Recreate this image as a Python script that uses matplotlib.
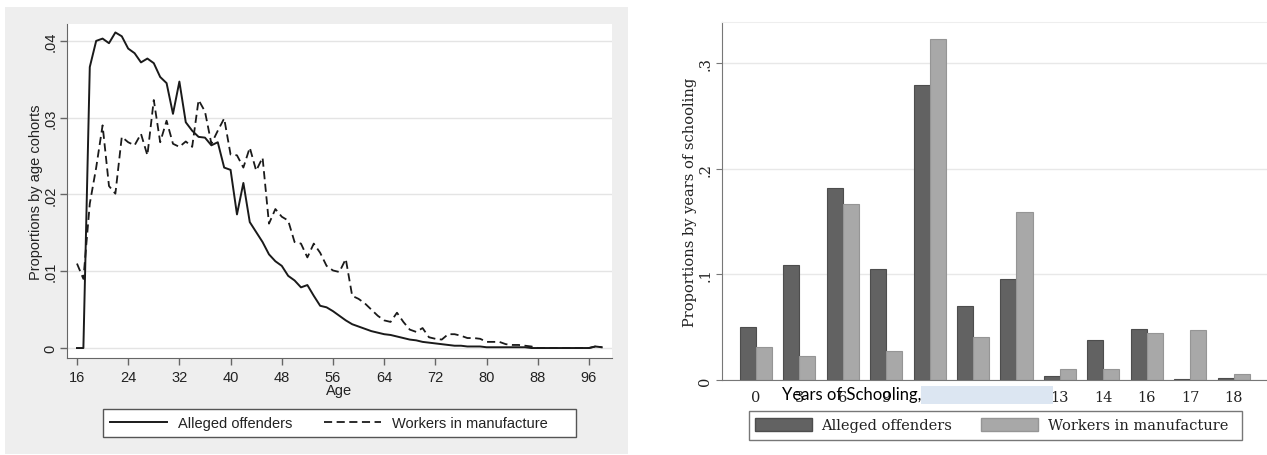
import numpy as np
import matplotlib.pyplot as plt
from matplotlib.patches import Rectangle
from matplotlib.lines import Line2D
from matplotlib.patches import Patch

# --- data: left panel (age distribution) ---
ages = list(range(16, 99))
alleged_offenders = [
    0.0, 0.0, 0.0366, 0.0400, 0.0403, 0.0397, 0.0411, 0.0406, 0.0390, 0.0384,
    0.0372, 0.0377, 0.0371, 0.0353, 0.0345, 0.0305, 0.0347, 0.0294, 0.0283, 0.0275,
    0.0274, 0.0264, 0.0268, 0.0235, 0.0232, 0.0174, 0.0215, 0.0164, 0.0151, 0.0138,
    0.0122, 0.0113, 0.0107, 0.0094, 0.0088, 0.0079, 0.0082, 0.0068, 0.0055, 0.0053,
    0.0048, 0.0042, 0.0036, 0.0031, 0.0028, 0.0025, 0.0022, 0.0020, 0.0018, 0.0017,
    0.0015, 0.0013, 0.0011, 0.0010, 0.0008, 0.0007, 0.0006, 0.0005, 0.0004, 0.0003,
    0.0003, 0.0002, 0.0002, 0.0002, 0.0001, 0.0001, 0.0001, 0.0001, 0.0001, 0.0001,
    0.0001, 0.0, 0.0, 0.0, 0.0, 0.0, 0.0, 0.0, 0.0, 0.0,
    0.0, 0.0002, 0.0001,
]
workers_manufacture = [
    0.0110, 0.0090, 0.0188, 0.0235, 0.0290, 0.0211, 0.0201, 0.0275, 0.0268, 0.0264,
    0.0279, 0.0251, 0.0323, 0.0268, 0.0296, 0.0266, 0.0262, 0.0269, 0.0262, 0.0323,
    0.0308, 0.0266, 0.0283, 0.0299, 0.0252, 0.0251, 0.0235, 0.0261, 0.0231, 0.0248,
    0.0162, 0.0181, 0.0171, 0.0166, 0.0138, 0.0136, 0.0118, 0.0136, 0.0124, 0.0107,
    0.0101, 0.0099, 0.0116, 0.0068, 0.0064, 0.0058, 0.0050, 0.0042, 0.0036, 0.0034,
    0.0046, 0.0034, 0.0024, 0.0021, 0.0026, 0.0014, 0.0012, 0.0011, 0.0018, 0.0018,
    0.0016, 0.0013, 0.0013, 0.0012, 0.0008, 0.0008, 0.0008, 0.0005, 0.0004, 0.0004,
    0.0003, 0.0002, 0.0, 0.0, 0.0, 0.0, 0.0, 0.0, 0.0, 0.0,
    0.0, 0.0002, 0.0001,
]
age_ticks = [16, 24, 32, 40, 48, 56, 64, 72, 80, 88, 96]
age_yticks = [0, 0.01, 0.02, 0.03, 0.04]
age_yticklabels = ['0', '.01', '.02', '.03', '.04']

# --- data: right panel (years of schooling) ---
school_years = ['0', '3', '6', '9', '10', '11', '12', '13', '14', '16', '17', '18']
school_offenders = [0.050, 0.109, 0.182, 0.1055, 0.280, 0.0705, 0.0957, 0.004, 0.038, 0.0487, 0.001, 0.002]
school_workers = [0.031, 0.023, 0.167, 0.0275, 0.3235, 0.041, 0.159, 0.0104, 0.0104, 0.0445, 0.0477, 0.006]
school_yticks = [0, 0.1, 0.2, 0.3]
school_yticklabels = ['0', '.1', '.2', '.3']

W, H = 1267, 456
fig = plt.figure(figsize=(W / 100, H / 100), dpi=100)


def fx(px):
    return px / W


def fy(py):
    return 1 - py / H


def box(x0, y0, x1, y1):
    return [fx(x0), fy(y1), fx(x1) - fx(x0), fy(y0) - fy(y1)]


# gray graph region behind the left panel
fig.add_artist(Rectangle((fx(5), fy(455)), fx(628) - fx(5), fy(8) - fy(455),
                         transform=fig.transFigure, facecolor='#eeeeee',
                         edgecolor='none', zorder=-5))

# ---------------- left panel ----------------
sans = 'Liberation Sans'
ax1 = fig.add_axes(box(67, 25, 612, 359))
ax1.set_facecolor('white')
ax1.plot(ages, alleged_offenders, color='#1a1a1a', lw=1.4, label='Alleged offenders')
ax1.plot(ages, workers_manufacture, color='#1a1a1a', lw=1.3, dashes=(4.5, 2.5),
         label='Workers in manufacture')
ax1.set_xlim(14.44, 99.6)
ax1.set_ylim(-0.0013, 0.0422)
ax1.set_xticks(age_ticks)
ax1.set_xticklabels([str(a) for a in age_ticks], fontfamily=sans, fontsize=10.5)
ax1.set_yticks(age_yticks)
ax1.set_yticklabels(age_yticklabels, fontfamily=sans, fontsize=10.5,
                    rotation=90, va='center')
ax1.grid(axis='y', color='#e4e4e4', lw=1)
ax1.set_axisbelow(True)
for s in ['top', 'right']:
    ax1.spines[s].set_visible(False)
for s in ['left', 'bottom']:
    ax1.spines[s].set_color('#666666')
ax1.tick_params(colors='#666666', labelcolor='#222222', length=5, width=1)
ax1.tick_params(axis='x', pad=4)
ax1.tick_params(axis='y', pad=2)
ax1.set_xlabel('Age', fontfamily=sans, fontsize=10.5, labelpad=-1, color='#222222')
ax1.set_ylabel('Proportions by age cohorts', fontfamily=sans, fontsize=10.5,
               labelpad=0, color='#222222')

# legend box of the left panel
fig.add_artist(Rectangle((fx(103), fy(438)), fx(576) - fx(103), fy(410) - fy(438),
                         transform=fig.transFigure, facecolor='white',
                         edgecolor='#555555', lw=1))
h1 = [Line2D([], [], color='#1a1a1a', lw=1.4),
      Line2D([], [], color='#1a1a1a', lw=1.3, dashes=(4.5, 2.5))]
leg1 = fig.legend(h1, ['Alleged offenders', 'Workers in manufacture'],
                  loc='center left', bbox_to_anchor=(fx(110), fy(424)),
                  ncol=2, frameon=False, borderpad=0, borderaxespad=0,
                  handlelength=3.9, handletextpad=0.75, columnspacing=2.2,
                  prop={'family': sans, 'size': 10.5})
for t in leg1.get_texts():
    t.set_color('#222222')

# ---------------- right panel ----------------
serif = 'DejaVu Serif'
ax2 = fig.add_axes(box(722, 23, 1267, 381))
x = np.arange(len(school_years))
w = 0.369
ax2.bar(x - w / 2, school_offenders, w, color='#626262', edgecolor='#4d4d4d', lw=0.8,
        label='Alleged offenders')
ax2.bar(x + w / 2, school_workers, w, color='#a8a8a8', edgecolor='#959595', lw=0.8,
        label='Workers in manufacture')
ax2.set_xlim(-0.783, 11.77)
ax2.set_ylim(0, 0.3393)
ax2.set_xticks(x)
ax2.set_xticklabels(school_years, fontfamily=serif, fontsize=10.5)
ax2.set_yticks(school_yticks)
ax2.set_yticklabels(school_yticklabels, fontfamily=serif, fontsize=10.5,
                    rotation=90, va='center')
ax2.grid(axis='y', color='#e8e8e8', lw=1)
ax2.set_axisbelow(True)
ax2.spines['right'].set_visible(False)
ax2.spines['top'].set_color('#eeeeee')
for s in ['left', 'bottom']:
    ax2.spines[s].set_color('#777777')
ax2.tick_params(axis='x', length=0, pad=7, labelcolor='#222222')
ax2.tick_params(axis='y', length=4, colors='#777777', labelcolor='#222222', pad=3)
ax2.set_ylabel('Proportions by years of schooling', fontfamily=serif, fontsize=10.5,
               labelpad=1, color='#222222')

# legend box of the right panel
fig.add_artist(Rectangle((fx(749), fy(440.5)), fx(1242) - fx(749), fy(411.5) - fy(440.5),
                         transform=fig.transFigure, facecolor='white',
                         edgecolor='#777777', lw=1))
h2 = [Patch(facecolor='#626262', edgecolor='#4d4d4d'),
      Patch(facecolor='#a8a8a8', edgecolor='#959595')]
leg2 = fig.legend(h2, ['Alleged offenders', 'Workers in manufacture'],
                  loc='center left', bbox_to_anchor=(fx(755), fy(426)),
                  ncol=2, frameon=False, borderpad=0, borderaxespad=0,
                  handlelength=3.9, handleheight=1.0, handletextpad=0.65,
                  columnspacing=2.0, prop={'family': serif, 'size': 10.5})
for t in leg2.get_texts():
    t.set_color('#222222')

# pasted caption and highlight box over the schooling tick labels
fig.text(fx(782), fy(395), 'Years of Schooling,', fontfamily='Lato', fontsize=12,
         ha='left', va='center', color='black', zorder=6)
fig.add_artist(Rectangle((fx(921), fy(405)), fx(1053) - fx(921), fy(387) - fy(405),
                         transform=fig.transFigure, facecolor='#dce6f2',
                         edgecolor='none', zorder=5))

fig.savefig('out.png', dpi=100)
